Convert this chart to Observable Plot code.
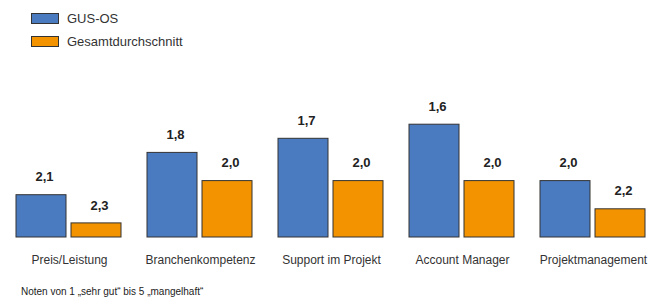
<!DOCTYPE html>
<html>
<head>
<meta charset="utf-8">
<script src="https://cdn.jsdelivr.net/npm/d3@7"></script>
<script src="https://cdn.jsdelivr.net/npm/@observablehq/plot@0.6"></script>
<style>
  html, body { margin: 0; padding: 0; background: #fff; }
  body { width: 663px; height: 298px; overflow: hidden; font-family: "Liberation Sans", Arial, sans-serif; }
  #legend { position: relative; height: 58px; }
  .sw { position: absolute; left: 31px; width: 28px; height: 11px; border: 1px solid #333; box-sizing: border-box; }
  .lt { position: absolute; left: 67px; font-size: 13px; color: #333; line-height: 14px; }
  #chart svg { display: block; }
  #note { position: absolute; left: 21px; top: 286px; font-size: 10px; color: #222; }
</style>
</head>
<body>
<div id="legend"></div>
<div id="chart"></div>
<div id="note"></div>
<script>
const categories = ["Preis/Leistung", "Branchenkompetenz", "Support im Projekt", "Account Manager", "Projektmanagement"];
const series = ["GUS-OS", "Gesamtdurchschnitt"];
const gusValues = [2.1, 1.8, 1.7, 1.6, 2.0];
const avgValues = [2.3, 2.0, 2.0, 2.0, 2.2];
const colors = ["#4a7ac0", "#f39300"];
const footnote = "Noten von 1 \u201Esehr gut\u201C bis 5 \u201Emangelhaft\u201C";

const data = [];
categories.forEach((c, i) => {
  data.push({category: c, series: series[0], value: gusValues[i]});
  data.push({category: c, series: series[1], value: avgValues[i]});
});

// legend
const legend = document.getElementById("legend");
series.forEach((s, i) => {
  const top = i === 0 ? 13 : 36;
  const sw = document.createElement("div");
  sw.className = "sw";
  sw.style.top = top + "px";
  sw.style.background = colors[i];
  legend.appendChild(sw);
  const t = document.createElement("div");
  t.className = "lt";
  t.style.top = (top - 1) + "px";
  t.textContent = s;
  legend.appendChild(t);
});

const fmt = v => v.toFixed(1).replace(".", ",");

const chart = Plot.plot({
  width: 663,
  height: 220,
  marginLeft: 14,
  marginRight: 15,
  marginTop: 0,
  marginBottom: 41,
  style: {fontFamily: "'Liberation Sans', Arial, sans-serif", background: "#fff"},
  fx: {domain: categories, paddingInner: 0.188, paddingOuter: 0, label: null},
  x: {domain: series, paddingInner: 0.089, paddingOuter: 0, axis: null},
  y: {domain: [2.4, 1.6], range: [179, 66.2], axis: null},
  color: {domain: series, range: colors},
  marks: [
    Plot.barY(data, {fx: "category", x: "series", y1: 2.4, y2: "value", fill: "series", stroke: "#333", strokeWidth: 1}),
    Plot.text(data, {fx: "category", x: "series", y: "value", text: d => fmt(d.value), dy: -18, dx: 3, fontSize: 13, fontWeight: "bold", fill: "#222"}),
    Plot.axisFx({anchor: "bottom", tickSize: 0, tickPadding: 18, fontSize: 12, fill: "#333", label: null})
  ]
});
document.getElementById("chart").appendChild(chart);
document.getElementById("note").textContent = footnote;
</script>
</body>
</html>
